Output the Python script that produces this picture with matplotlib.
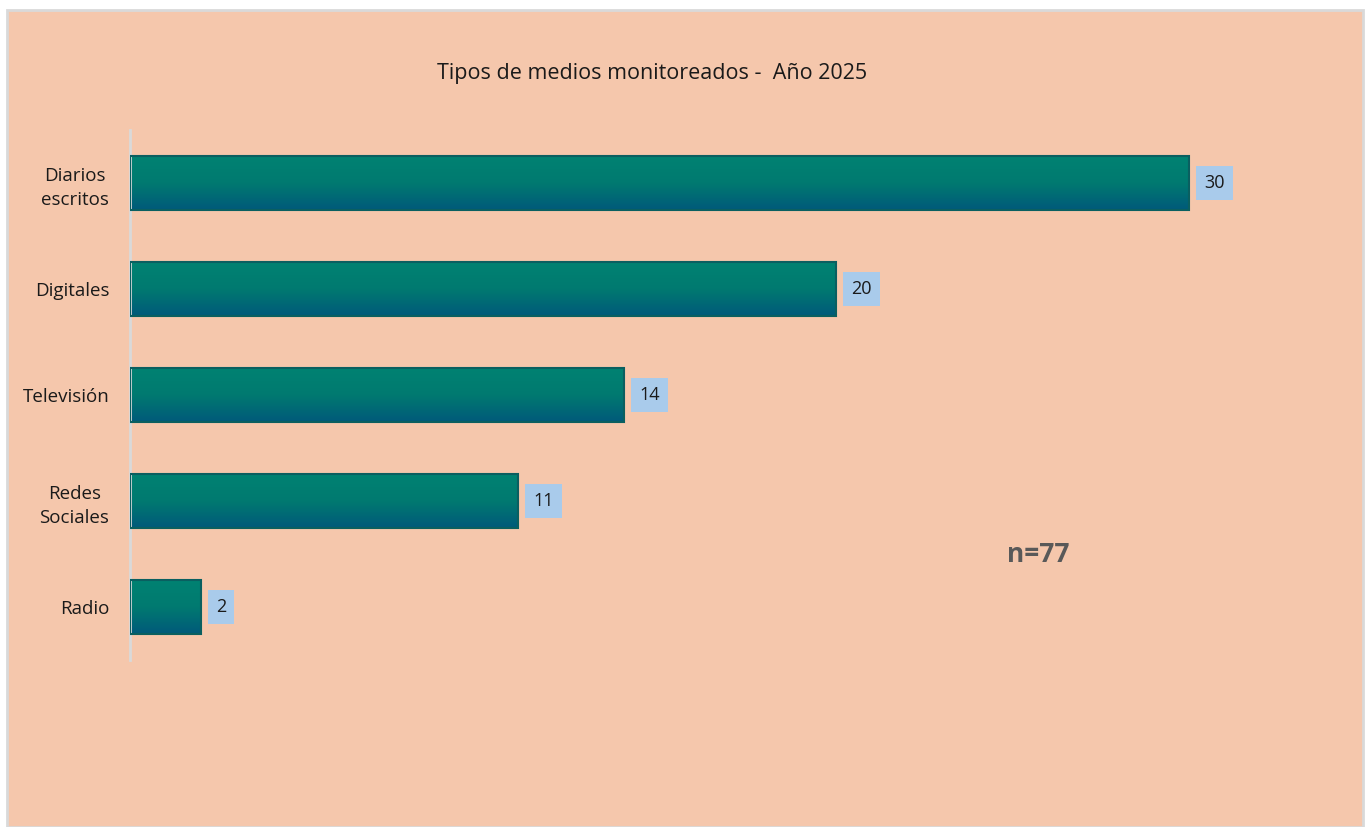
import numpy as np
import matplotlib.pyplot as plt
from matplotlib.patches import Rectangle
from matplotlib.colors import LinearSegmentedColormap

# Data
categories = ['Diarios\nescritos', 'Digitales', 'Televisión', 'Redes\nSociales', 'Radio']
values = [30, 20, 14, 11, 2]
title = 'Tipos de medios monitoreados -  Año 2025'
note = 'n=77'

W, H = 1372, 827
fig = plt.figure(figsize=(W / 100, H / 100), dpi=100)
fig.patch.set_facecolor('white')

# peach chart area with light border
bg = Rectangle((7 / W, 0), (1363 - 7) / W, (H - 10) / H, transform=fig.transFigure,
               facecolor='#F5C7AC', edgecolor='#D9D9D9', lw=2, zorder=-5)
fig.patches.append(bg)

# axes: left 130 px, right 1290 px, top 130 px, bottom 660 px
ax = fig.add_axes([130 / W, (H - 660) / H, (1290 - 130) / W, 530 / H])
ax.set_zorder(1)
ax.set_facecolor('none')
px_per_unit = 35.3

for s in ['top', 'right', 'bottom']:
    ax.spines[s].set_visible(False)
ax.spines['left'].set_color('#D9D9D9')
ax.spines['left'].set_linewidth(2)
ax.set_xticks([])
ax.set_yticks(range(len(categories)))
ax.set_yticklabels(categories, fontsize=13.5, family='Open Sans', linespacing=1.45,
                   color='#1A1A1A')
ax.tick_params(axis='y', length=0, pad=15)
for lbl in ax.get_yticklabels():
    lbl.set_multialignment('center')

cmap = LinearSegmentedColormap.from_list('tealblue', ['#008272', '#007A70', '#005A7A'])
grad = np.linspace(0, 1, 64).reshape(-1, 1)
bh = 0.51
for i, v in enumerate(values):
    im = ax.imshow(grad, extent=(0, v, i + bh / 2, i - bh / 2), aspect='auto',
                   cmap=cmap, origin='upper', zorder=2)
    rect = Rectangle((0, i - bh / 2), v, bh, facecolor='none',
                     edgecolor='#0A5F60', lw=1.5, zorder=3)
    ax.add_patch(rect)
    im.set_clip_path(rect)
    ax.annotate(str(v), xy=(v, i), xytext=(11, 0), textcoords='offset points',
                ha='left', va='center', fontsize=13, family='Open Sans', color='#1A1A1A',
                bbox=dict(boxstyle='square,pad=0.45', fc='#A9CBEB', ec='none'), zorder=4)

ax.set_xlim(0, (1290 - 130) / px_per_unit)
ax.set_ylim(len(values) - 0.5, -0.5)

fig.text(652 / W, 1 - 73 / H, title, ha='center', va='center', fontsize=15.5,
         family='Open Sans', color='#1A1A1A')
fig.text(1038 / W, 1 - 555 / H, note, ha='center', va='center', fontsize=19,
         family='Open Sans', fontweight='bold', color='#595959')

fig.savefig('out.png', dpi=100, facecolor=fig.get_facecolor())
